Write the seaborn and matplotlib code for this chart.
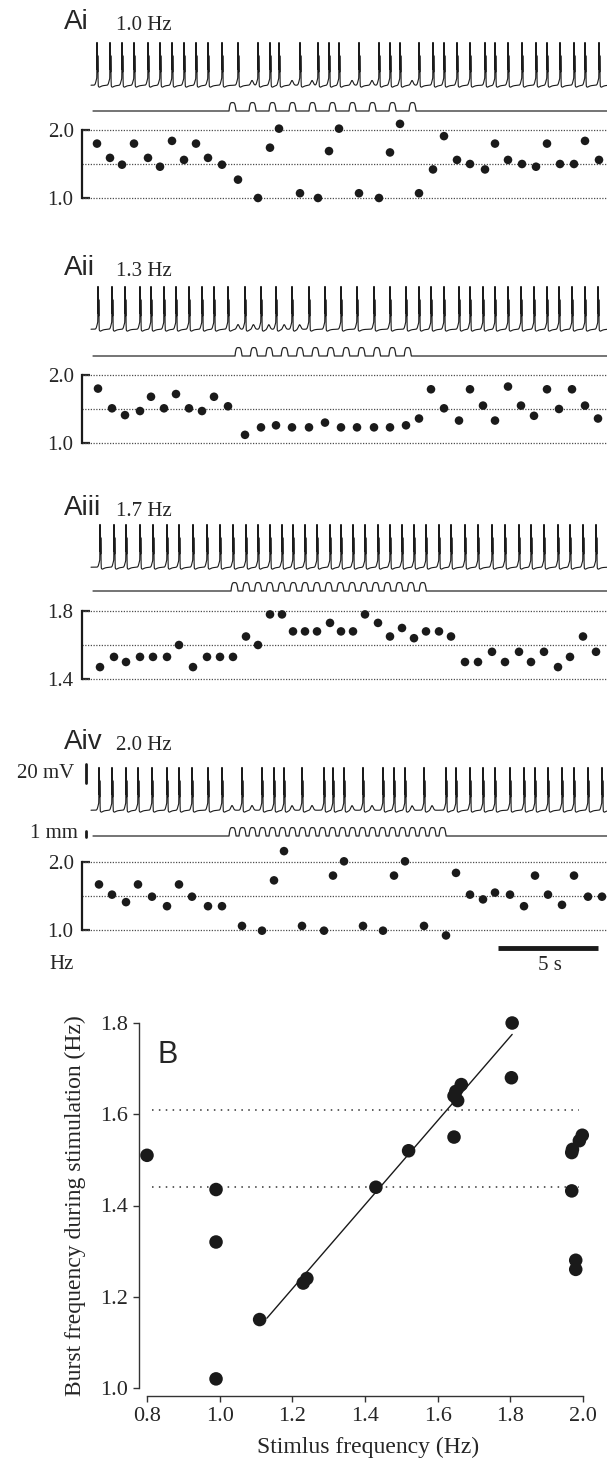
import numpy as np
import matplotlib
matplotlib.use("Agg")
import matplotlib.pyplot as plt
import seaborn as sns


ai_t = [0.75, 1.4, 2.0, 2.6, 3.3, 3.9, 4.5, 5.1, 5.7, 6.3, 7.0, 7.8, 8.8, 9.4, 9.85,
        10.9, 11.8, 12.35, 12.85, 13.85, 14.85, 15.4, 15.9, 16.85, 17.55, 18.1, 18.75,
        19.4, 20.15, 20.65, 21.3, 22.0, 22.7, 23.25, 23.9, 24.6, 25.15, 25.85]
ai_f = [1.80, 1.59, 1.49, 1.80, 1.59, 1.46, 1.84, 1.56, 1.80, 1.59, 1.49, 1.27, 1.00,
        1.74, 2.02, 1.07, 1.00, 1.69, 2.02, 1.07, 1.00, 1.67, 2.09, 1.07, 1.42, 1.91,
        1.56, 1.50, 1.42, 1.80, 1.56, 1.50, 1.46, 1.80, 1.50, 1.50, 1.84, 1.56]

aii_t = [0.8, 1.5, 2.15, 2.9, 3.45, 4.1, 4.7, 5.35, 6.0, 6.6, 7.3, 8.15, 8.95, 9.7,
         10.5, 11.35, 12.15, 12.95, 13.75, 14.6, 15.4, 16.2, 16.85, 17.45, 18.1, 18.85,
         19.4, 20.05, 20.65, 21.3, 21.95, 22.6, 23.25, 23.85, 24.5, 25.15, 25.8]
aii_f = [1.80, 1.51, 1.41, 1.47, 1.68, 1.51, 1.72, 1.51, 1.47, 1.68, 1.54, 1.12, 1.23,
         1.26, 1.23, 1.23, 1.30, 1.23, 1.23, 1.23, 1.23, 1.26, 1.36, 1.79, 1.51, 1.33,
         1.79, 1.55, 1.33, 1.83, 1.55, 1.40, 1.79, 1.50, 1.79, 1.55, 1.36]

aiii_t = [0.9, 1.6, 2.2, 2.9, 3.55, 4.25, 4.85, 5.55, 6.25, 6.9, 7.55, 8.2, 8.8, 9.4,
          10.0, 10.55, 11.15, 11.75, 12.4, 12.95, 13.55, 14.15, 14.8, 15.4, 16.0, 16.6,
          17.2, 17.85, 18.45, 19.15, 19.8, 20.5, 21.15, 21.85, 22.45, 23.1, 23.8, 24.4,
          25.05, 25.7]
aiii_f = [1.47, 1.53, 1.50, 1.53, 1.53, 1.53, 1.60, 1.47, 1.53, 1.53, 1.53, 1.65, 1.60,
          1.78, 1.78, 1.68, 1.68, 1.68, 1.73, 1.68, 1.68, 1.78, 1.73, 1.65, 1.70, 1.64,
          1.68, 1.68, 1.65, 1.50, 1.50, 1.56, 1.50, 1.56, 1.50, 1.56, 1.47, 1.53, 1.65,
          1.56]

aiv_t = [0.85, 1.5, 2.2, 2.8, 3.5, 4.25, 4.85, 5.5, 6.3, 7.0, 8.0, 9.0, 9.6, 10.1, 11.0,
         12.1, 12.55, 13.1, 14.05, 15.05, 15.6, 16.15, 17.1, 18.2, 18.7, 19.4, 20.05,
         20.65, 21.4, 22.1, 22.65, 23.3, 24.0, 24.6, 25.3, 26.0]
aiv_f = [1.67, 1.52, 1.41, 1.67, 1.49, 1.35, 1.67, 1.49, 1.35, 1.35, 1.06, 0.99, 1.73,
         2.16, 1.06, 0.99, 1.80, 2.01, 1.06, 0.99, 1.80, 2.01, 1.06, 0.92, 1.84, 1.52,
         1.45, 1.55, 1.52, 1.35, 1.80, 1.52, 1.37, 1.80, 1.49, 1.49]

panel_names = ["Ai", "Aii", "Aiii", "Aiv"]
stim_hz = [1.0, 1.3, 1.7, 2.0]
stim_labels = ["1.0 Hz", "1.3 Hz", "1.7 Hz", "2.0 Hz"]
stim_on = [7.35, 7.65, 7.45, 7.35]      # first pulse (s)
stim_count = [10, 12, 17, 22]
dot_ticks = [(1.0, 2.0), (1.0, 2.0), (1.4, 1.8), (1.0, 2.0)]

# panel B
b_stim = [0.80, 0.99, 0.99, 0.99, 1.11, 1.23, 1.24, 1.43, 1.52, 1.645, 1.645, 1.65,
          1.655, 1.665, 1.805, 1.803, 1.969, 1.969, 1.971, 1.99, 1.998, 1.98, 1.98]
b_burst = [1.51, 1.435, 1.32, 1.02, 1.15, 1.23, 1.24, 1.44, 1.52, 1.55, 1.64, 1.65,
           1.63, 1.665, 1.80, 1.68, 1.432, 1.516, 1.523, 1.542, 1.554, 1.28, 1.26]
fit_x = [1.13, 1.805]
fit_y = [1.153, 1.775]
ref_levels = [1.61, 1.44]
ref_span = [0.815, 1.99]
b_xticks = [0.8, 1.0, 1.2, 1.4, 1.6, 1.8, 2.0]
b_yticks = [1.0, 1.2, 1.4, 1.6, 1.8]

bursts = [ai_t, aii_t, aiii_t, aiv_t]
freqs = [ai_f, aii_f, aiii_f, aiv_f]


# ---- layout (pixels) ----
W, H = 607, 1464
X0, X1 = 82, 607
PX_PER_S = 20.0
T_MAX = (X1 - X0) / PX_PER_S
MV_PER_PX = 20.0 / 19.0
MM_PX = 6.0

rows = [
    dict(trough=89, stim=111, top=130, bot=198, text=29),
    dict(trough=333, stim=356, top=375, bot=443, text=275),
    dict(trough=571, stim=591, top=611, bot=679, text=515),
    dict(trough=814, stim=836, top=862, bot=930, text=749),
]

sns.set_theme(style="white")
plt.rcParams["font.family"] = ["Liberation Serif", "DejaVu Serif"]

fig = plt.figure(figsize=(W / 100, H / 100), dpi=100)


def px_axes(x0, y0, x1, y1):
    return fig.add_axes([x0 / W, 1 - y1 / H, (x1 - x0) / W, (y1 - y0) / H])


def membrane(times, pulses, t):
    v = np.full_like(t, -44.0)
    times = np.asarray(times)
    for b in times:
        dt = t - b
        v += 7.0 * np.exp(-0.5 * (dt / 0.05) ** 2)
        for d, a in ((0.0, 38.0), (0.02, 33.0), (0.04, 26.0)):
            v += a * np.exp(-0.5 * ((dt - d) / 0.005) ** 2)
        late = dt > 0.06
        v[late] -= 4.0 * np.exp(-(dt[late] - 0.06) / 0.12)
    for p in pulses:
        c = p + 0.15
        if np.min(np.abs(times - c)) > 0.3:
            v += 5.0 * np.exp(-0.5 * ((t - c) / 0.06) ** 2)
    return v


def stimulus(pulses, t, width=0.35, amp=1.4):
    s = np.zeros_like(t)
    for p in pulses:
        u = (t - p) / width
        m = (u >= 0) & (u <= 1)
        s[m] = amp * (1 - (2 * u[m] - 1) ** 4)
    return s


t = np.arange(0.45, T_MAX, 0.002)

for i, r in enumerate(rows):
    pulses = stim_on[i] + np.arange(stim_count[i]) / stim_hz[i]

    # membrane trace
    ax_v = px_axes(X0, r["trough"] - 60, X1, r["trough"] + 8)
    v = membrane(bursts[i], pulses, t)
    sns.lineplot(x=t, y=v, ax=ax_v, color="k", lw=0.8, estimator=None, sort=False)
    ax_v.set_xlim(0, T_MAX)
    ax_v.set_ylim(-48 - 8 * MV_PER_PX, -48 + 60 * MV_PER_PX)
    ax_v.axis("off")

    # stimulus (mm)
    ax_s = px_axes(X0, r["stim"] - 12, X1, r["stim"] + 4)
    s = stimulus(pulses, t + 0.1)
    sns.lineplot(x=t + 0.1, y=s, ax=ax_s, color="0.15", lw=0.9, estimator=None, sort=False)
    ax_s.set_xlim(0, T_MAX)
    ax_s.set_ylim(-4 / MM_PX, 12 / MM_PX)
    ax_s.axis("off")

    # burst frequency dots
    lo, hi = dot_ticks[i]
    ax_d = px_axes(X0, r["top"], X1, r["bot"])
    for lev in (lo, (lo + hi) / 2, hi):
        ax_d.axhline(lev, color="0.3", lw=0.9, ls=(0, (1, 1.2)), zorder=1, clip_on=False)
    sns.scatterplot(x=bursts[i], y=freqs[i], ax=ax_d, color="k", s=38,
                    edgecolor="none", clip_on=False, zorder=3)
    ax_d.set_xlim(0, T_MAX)
    ax_d.set_ylim(lo, hi)
    ax_d.set_yticks([lo, hi])
    ax_d.set_yticklabels([f"{lo:.1f}", f"{hi:.1f}"], fontsize=15)
    ax_d.set_xticks([])
    ax_d.tick_params(axis="y", direction="in", length=6, width=1.6, pad=6, left=True)
    sns.despine(ax=ax_d, bottom=True)
    ax_d.spines["left"].set_linewidth(1.6)
    ax_d.spines["left"].set_color("k")
    ax_d.set_facecolor("none")

    fig.text(64 / W, 1 - r["text"] / H, panel_names[i], fontsize=20,
             family="Liberation Sans", va="baseline")
    fig.text(116 / W, 1 - (r["text"] + 1) / H, stim_labels[i], fontsize=15, va="baseline")

    if i == 3:
        ax_v.plot([0.2, 0.2], [-15.4, 4.6], color="k", lw=2, clip_on=False)
        ax_v.text(-0.4, -5.4, "20 mV", fontsize=15, ha="right", va="center")
        ax_s.plot([0.2, 0.2], [-0.15, 0.85], color="k", lw=2, clip_on=False)
        ax_s.text(-0.2, 0.4, "1 mm", fontsize=15, ha="right", va="center")
        ax_d.text(-0.4, 0.49, "Hz", fontsize=15, ha="right", va="center")
        ax_d.plot([20.8, 25.8], [0.735, 0.735], color="k", lw=3.5, clip_on=False,
                  solid_capstyle="butt")
        ax_d.text(23.4, 0.48, "5 s", fontsize=15, ha="center", va="center")

# ---- panel B ----
ax_b = px_axes(147, 1023, 583, 1388)
for lev in ref_levels:
    ax_b.plot(ref_span, [lev, lev], color="0.2", lw=1.1, ls=(0, (1, 3.5)))
sns.lineplot(x=fit_x, y=fit_y, ax=ax_b, color="k", lw=1.0)
sns.scatterplot(x=b_stim, y=b_burst, ax=ax_b, color="k", s=95, edgecolor="none",
                clip_on=False, zorder=3)
ax_b.set_xlim(0.8, 2.0)
ax_b.set_ylim(1.0, 1.8)
ax_b.set_xticks(b_xticks)
ax_b.set_yticks(b_yticks)
sns.despine(ax=ax_b, offset=6, trim=True)
ax_b.set_xticklabels([f"{v:.1f}" for v in b_xticks])
ax_b.set_yticklabels([f"{v:.1f}" for v in b_yticks])
ax_b.tick_params(direction="out", length=4, width=1, color="0.2", pad=4,
                 labelsize=16, bottom=True, left=True)
for side in ("left", "bottom"):
    ax_b.spines[side].set_linewidth(1.0)
    ax_b.spines[side].set_color("0.2")
ax_b.set_xlabel("Stimlus frequency (Hz)", fontsize=17)
ax_b.set_ylabel("Burst frequency during stimulation (Hz)", fontsize=17)
ax_b.xaxis.set_label_coords(0.507, -0.135)
ax_b.yaxis.set_label_coords(-0.14, 0.5)
ax_b.set_facecolor("none")
fig.text(158 / W, 1 - 1063 / H, "B", fontsize=22, family="Liberation Sans", va="baseline")

fig.savefig("out.png", dpi=100)
